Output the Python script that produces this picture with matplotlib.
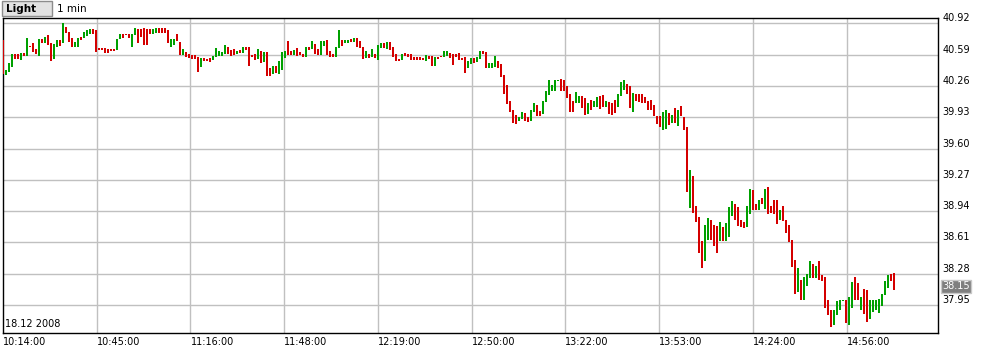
import matplotlib
matplotlib.use("Agg")
import matplotlib.pyplot as plt
from matplotlib.patches import Rectangle

# 1-minute bars, 18.12.2008, 10:14 onwards (high / low / direction)
highs = [
    40.74, 40.43, 40.50, 40.60, 40.60, 40.60, 40.61, 40.61, 40.76, 40.68,
    40.71, 40.65, 40.75, 40.75, 40.78, 40.80, 40.71, 40.70, 40.74, 40.74,
    40.92, 40.88, 40.83, 40.76, 40.72, 40.77, 40.78, 40.83, 40.85, 40.86,
    40.86, 40.85, 40.66, 40.66, 40.66, 40.65, 40.65, 40.65, 40.75, 40.81,
    40.81, 40.81, 40.81, 40.81, 40.87, 40.86, 40.86, 40.87, 40.86, 40.86,
    40.86, 40.87, 40.87, 40.87, 40.87, 40.85, 40.75, 40.75, 40.81, 40.72,
    40.65, 40.62, 40.60, 40.59, 40.59, 40.57, 40.55, 40.55, 40.54, 40.55,
    40.58, 40.66, 40.63, 40.62, 40.69, 40.67, 40.64, 40.65, 40.63, 40.64,
    40.67, 40.67, 40.67, 40.59, 40.60, 40.65, 40.63, 40.62, 40.62, 40.45,
    40.47, 40.47, 40.52, 40.62, 40.63, 40.73, 40.63, 40.64, 40.66, 40.62,
    40.60, 40.67, 40.67, 40.73, 40.70, 40.65, 40.73, 40.73, 40.74, 40.63,
    40.60, 40.67, 40.85, 40.74, 40.74, 40.74, 40.75, 40.76, 40.77, 40.73,
    40.67, 40.63, 40.60, 40.65, 40.60, 40.69, 40.71, 40.71, 40.72, 40.72,
    40.67, 40.60, 40.54, 40.60, 40.61, 40.60, 40.60, 40.56, 40.56, 40.56,
    40.55, 40.59, 40.58, 40.58, 40.56, 40.57, 40.58, 40.63, 40.63, 40.61,
    40.60, 40.60, 40.61, 40.55, 40.57, 40.52, 40.55, 40.55, 40.56, 40.63,
    40.63, 40.62, 40.50, 40.50, 40.58, 40.52, 40.49, 40.38, 40.27, 40.10,
    40.01, 39.95, 39.93, 39.99, 39.97, 39.93, 40.01, 40.08, 40.06, 40.00,
    40.10, 40.21, 40.32, 40.27, 40.32, 40.32, 40.33, 40.32, 40.26, 40.18,
    40.10, 40.20, 40.15, 40.15, 40.13, 40.08, 40.11, 40.10, 40.14, 40.15,
    40.16, 40.10, 40.09, 40.08, 40.11, 40.18, 40.30, 40.32, 40.28, 40.26,
    40.19, 40.18, 40.18, 40.18, 40.14, 40.10, 40.11, 40.06, 39.94, 39.94,
    39.99, 40.01, 39.97, 39.95, 40.03, 40.01, 40.05, 39.93, 39.83, 39.37,
    39.31, 38.99, 38.88, 38.62, 38.79, 38.87, 38.85, 38.79, 38.78, 38.82,
    38.77, 38.81, 38.98, 39.05, 39.02, 38.98, 38.85, 38.82, 38.99, 39.17,
    39.16, 39.02, 39.06, 39.08, 39.17, 39.19, 38.99, 39.06, 39.06, 38.95,
    38.99, 38.85, 38.79, 38.64, 38.42, 38.34, 38.21, 38.25, 38.28, 38.41,
    38.38, 38.36, 38.41, 38.27, 38.25, 38.00, 37.90, 37.90, 37.99, 38.00,
    38.00, 38.00, 38.03, 38.19, 38.25, 38.18, 38.03, 38.12, 38.11, 38.00,
    38.00, 38.00, 38.01, 38.07, 38.20, 38.27, 38.28, 38.29,
]
lows = [
    40.39, 40.38, 40.41, 40.46, 40.54, 40.54, 40.53, 40.58, 40.58, 40.67,
    40.62, 40.60, 40.58, 40.71, 40.71, 40.69, 40.52, 40.54, 40.67, 40.68,
    40.71, 40.82, 40.72, 40.67, 40.67, 40.67, 40.74, 40.77, 40.79, 40.81,
    40.81, 40.62, 40.64, 40.64, 40.61, 40.61, 40.63, 40.63, 40.64, 40.75,
    40.77, 40.80, 40.77, 40.67, 40.80, 40.71, 40.78, 40.69, 40.69, 40.81,
    40.81, 40.82, 40.82, 40.82, 40.82, 40.71, 40.67, 40.69, 40.73, 40.59,
    40.59, 40.57, 40.55, 40.54, 40.54, 40.41, 40.46, 40.52, 40.52, 40.51,
    40.53, 40.57, 40.58, 40.58, 40.60, 40.60, 40.58, 40.59, 40.60, 40.61,
    40.61, 40.64, 40.47, 40.56, 40.53, 40.54, 40.50, 40.51, 40.36, 40.36,
    40.39, 40.40, 40.39, 40.43, 40.55, 40.59, 40.59, 40.59, 40.58, 40.59,
    40.56, 40.57, 40.64, 40.65, 40.60, 40.59, 40.59, 40.68, 40.59, 40.57,
    40.57, 40.57, 40.66, 40.68, 40.71, 40.71, 40.72, 40.72, 40.67, 40.66,
    40.54, 40.55, 40.55, 40.56, 40.55, 40.53, 40.66, 40.66, 40.65, 40.64,
    40.57, 40.52, 40.52, 40.53, 40.58, 40.56, 40.53, 40.53, 40.53, 40.53,
    40.53, 40.52, 40.54, 40.47, 40.47, 40.54, 40.56, 40.56, 40.58, 40.55,
    40.48, 40.56, 40.53, 40.53, 40.40, 40.45, 40.49, 40.50, 40.51, 40.54,
    40.60, 40.45, 40.45, 40.45, 40.46, 40.45, 40.35, 40.18, 40.07, 39.98,
    39.87, 39.86, 39.89, 39.91, 39.89, 39.88, 39.89, 39.98, 39.94, 39.94,
    39.96, 40.09, 40.16, 40.21, 40.21, 40.31, 40.21, 40.21, 40.13, 39.99,
    39.98, 40.08, 40.08, 40.03, 39.95, 39.96, 40.01, 40.04, 40.04, 40.02,
    40.04, 40.04, 39.96, 39.95, 39.97, 40.04, 40.15, 40.22, 40.17, 40.03,
    39.98, 40.10, 40.09, 40.08, 40.08, 40.01, 40.01, 39.94, 39.86, 39.83,
    39.80, 39.81, 39.85, 39.87, 39.87, 39.84, 39.94, 39.79, 39.14, 38.97,
    38.92, 38.83, 38.50, 38.34, 38.41, 38.64, 38.64, 38.57, 38.50, 38.62,
    38.63, 38.62, 38.67, 38.89, 38.85, 38.78, 38.77, 38.76, 38.77, 38.91,
    38.95, 38.95, 38.95, 39.02, 38.96, 38.91, 38.92, 38.91, 38.80, 38.85,
    38.84, 38.71, 38.61, 38.35, 38.07, 38.09, 38.00, 38.00, 38.15, 38.23,
    38.23, 38.23, 38.21, 38.20, 37.92, 37.85, 37.72, 37.74, 37.85, 37.90,
    37.99, 37.76, 37.74, 37.92, 38.00, 38.00, 37.90, 37.86, 37.77, 37.80,
    37.88, 37.90, 37.87, 37.94, 38.06, 38.13, 38.20, 38.11,
]
# G = up bar, R = down bar
direction = (
    "RGGGRRGRGR" "RRGRGRRGGR" "GRRRGGRGGG" "RRRRRRRRGG" "RRRGGRRRRR"
    "GGRRRRGGRR" "GRRRRRGRRR" "GGGGGRRRGR" "GRRRRGRGRR" "GRGGGRRGRR"
    "RGRGRRGGRR" "RGGRGGRGRR" "RGRGRGGRGR" "RRRGRRRRRR" "RGRRGRRGGR"
    "RRRRRGGRGG" "RRGGGRRRRR" "RRGGRRGGRR" "GGGGGGRRRR" "RGGRRGRGGR"
    "RGRRRGGGRR" "GRRRRRRRRR" "GGRGRGRRRG" "RRRRGGRRRG" "RGGGRRRRGG"
    "RRGRGRRRRG" "RRRRRGRGGG" "RGRRRRRGGG" "GRGGRRGRRG" "GGGGGGRR"
)
last_price = 38.15

price_ticks = [37.95, 38.28, 38.61, 38.94, 39.27, 39.60, 39.93, 40.26, 40.59, 40.92]
time_labels = ["10:14:00", "10:45:00", "11:16:00", "11:48:00", "12:19:00",
               "12:50:00", "13:22:00", "13:53:00", "14:24:00", "14:56:00"]

plt.rcParams['font.family'] = ['DejaVu Sans']

fig = plt.figure(figsize=(9.82, 3.5), dpi=100)
ax = fig.add_axes([3 / 982, 17 / 350, 935 / 982, 315 / 350])

x = list(range(len(highs)))
cols = ['#00a000' if d == 'G' else '#d40000' for d in direction]
ax.vlines(x, lows, highs, colors=cols, linewidth=1.44, capstyle='butt',
          antialiased=False, zorder=3)

ax.set_xlim(-0.1, 311.6)
ax.set_ylim(37.655, 40.976)

# grid
step = 31.25
grid_x = [-0.1 + step * k for k in range(len(time_labels))]
for gx in grid_x[1:]:
    ax.axvline(gx, color='#c0c0c0', linewidth=1, zorder=1)
for p in price_ticks:
    ax.axhline(p, color='#c0c0c0', linewidth=1, zorder=1)

ax.set_xticks([])
ax.set_yticks([])
for s in ax.spines.values():
    s.set_color('black')
    s.set_linewidth(1)

# time labels below the plot, left aligned at each grid line
for gx, lab in zip(grid_x, time_labels):
    ax.annotate(lab, xy=(gx, 0), xycoords=('data', 'axes fraction'),
                xytext=(0, -3), textcoords='offset points',
                ha='left', va='top', fontsize=7)

# price labels right of the plot, sitting on the grid lines
for p in price_ticks:
    ax.annotate(f"{p:.2f}", xy=(1, p), xycoords=('axes fraction', 'data'),
                xytext=(3, 0), textcoords='offset points',
                ha='left', va='bottom', fontsize=7)

ax.annotate(f"{last_price:.2f}", xy=(1, last_price), xycoords=('axes fraction', 'data'),
            xytext=(3, 0), textcoords='offset points', ha='left', va='center',
            fontsize=7, color='white',
            bbox=dict(boxstyle='square,pad=0.15', fc='#7f7f7f', ec='#c8c8c8', lw=1))

ax.text(0.002, 0.012, "18.12 2008", transform=ax.transAxes, ha='left', va='bottom',
        fontsize=7)

# header
fig.patches.append(Rectangle((2 / 982, 1 - 16 / 350), 50 / 982, 15 / 350,
                             transform=fig.transFigure, fc='#e2e2e2', ec='#8c8c8c',
                             lw=1))
fig.text(6 / 982, 1 - 8.5 / 350, "Light", ha='left', va='center', fontsize=7.5,
         fontweight='bold')
fig.text(57 / 982, 1 - 8.5 / 350, "1 min", ha='left', va='center', fontsize=7.5)

fig.savefig("out.png", dpi=100, facecolor='white')
